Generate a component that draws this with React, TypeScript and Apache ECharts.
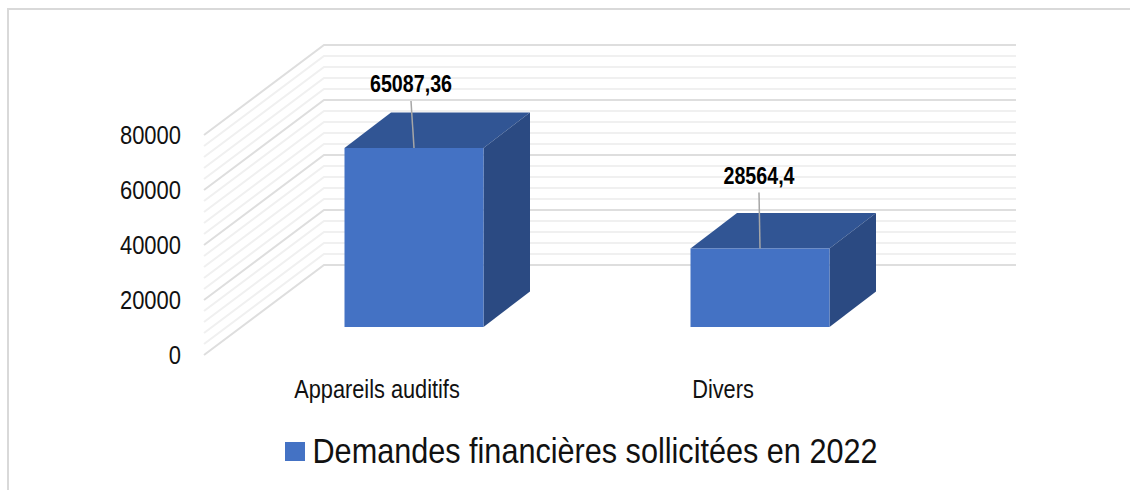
import React, { useEffect, useRef } from "react";
import * as echarts from "echarts";

const categories = ["Appareils auditifs", "Divers"];
const values = [65087.36, 28564.4];
const valueLabels = ["65087,36", "28564,4"];
const seriesName = "Demandes financières sollicitées en 2022";
const yTicks = [0, 20000, 40000, 60000, 80000];
const yTickLabels = ["0", "20000", "40000", "60000", "80000"];
const minorLines = [
  4000, 8000, 12000, 16000, 24000, 28000, 32000, 36000, 44000, 48000, 52000, 56000, 64000, 68000,
  72000, 76000,
];

const FONT = "'Liberation Sans', Arial, sans-serif";
const DEPTH_X = 120;
const DEPTH_Y = 90;
const BAR_WIDTH = 139;
const BAR_OFFSET_X = 37;
const BAR_OFFSET_Y = 28;
const BAR_DEPTH_X = 46.5;
const BAR_DEPTH_Y = 35.5;
const labelLift = [64, 73];
const leaderLift = [47, 56];
const leaderTilt = [-3, -1];

export default function App() {
  const ref = useRef<HTMLDivElement>(null);
  useEffect(() => {
    const chart = echarts.init(ref.current!, null, { renderer: "svg" });
    const wall = (params: any, api: any, color: string, width: number) => {
      const cs = params.coordSys;
      const y = api.coord([0, api.value(0)])[1];
      return {
        type: "polyline",
        silent: true,
        shape: {
          points: [
            [cs.x, y],
            [cs.x + DEPTH_X, y - DEPTH_Y],
            [cs.x + cs.width + DEPTH_X, y - DEPTH_Y],
          ],
        },
        style: { stroke: color, lineWidth: width, fill: "none" },
      };
    };
    chart.setOption({
      animation: false,
      backgroundColor: "#ffffff",
      textStyle: { fontFamily: FONT },
      grid: { left: 204, top: 135, width: 692, height: 220, containLabel: false },
      legend: {
        show: true,
        left: 280,
        top: 437,
        icon: "rect",
        itemWidth: 20,
        itemHeight: 19,
        selectedMode: false,
        formatter: () => " ",
        textStyle: { fontFamily: FONT, fontSize: 12 },
        data: [seriesName],
      },
      xAxis: {
        type: "category",
        data: categories,
        axisLine: { show: false },
        axisTick: { show: false },
        splitLine: { show: false },
        axisLabel: { show: false },
      },
      yAxis: {
        type: "value",
        min: 0,
        max: 80000,
        interval: 20000,
        axisLine: { show: false },
        axisTick: { show: false },
        splitLine: { show: false },
        axisLabel: { show: false },
      },
      series: [
        {
          type: "custom",
          name: "minor",
          silent: true,
          coordinateSystem: "cartesian2d",
          data: minorLines.map((v) => [v]),
          encode: { y: 0 },
          renderItem: (p: any, api: any) => wall(p, api, "#f0f0f0", 2),
        },
        {
          type: "custom",
          name: "major",
          silent: true,
          coordinateSystem: "cartesian2d",
          data: yTicks.map((v) => [v]),
          encode: { y: 0 },
          renderItem: (p: any, api: any) => wall(p, api, "#dedede", 2),
        },
        {
          type: "custom",
          name: "yLabels",
          silent: true,
          coordinateSystem: "cartesian2d",
          data: yTicks.map((v) => [v]),
          encode: { y: 0 },
          renderItem: (p: any, api: any) => ({
            type: "text",
            x: p.coordSys.x - 23,
            y: api.coord([0, api.value(0)])[1],
            scaleX: 0.845,
            style: {
              text: yTickLabels[p.dataIndex],
              font: `26px ${FONT}`,
              fill: "#111111",
              align: "right",
              verticalAlign: "middle",
            },
          }),
        },
        {
          type: "custom",
          name: "xLabels",
          silent: true,
          coordinateSystem: "cartesian2d",
          data: categories.map((_, i) => [i]),
          encode: { x: 0 },
          renderItem: (p: any, api: any) => ({
            type: "text",
            x: api.coord([api.value(0), 0])[0],
            y: api.coord([api.value(0), 0])[1] + 34,
            scaleX: 0.87,
            style: {
              text: categories[p.dataIndex],
              font: `25px ${FONT}`,
              fill: "#111111",
              align: "center",
              verticalAlign: "middle",
            },
          }),
        },
        {
          type: "custom",
          name: seriesName,
          coordinateSystem: "cartesian2d",
          itemStyle: { color: "#4472C4" },
          data: values.map((v, i) => [i, v]),
          encode: { x: 0, y: 1 },
          renderItem: (p: any, api: any) => {
            const i = p.dataIndex;
            const c = api.coord([api.value(0), api.value(1)]);
            const base = api.coord([api.value(0), 0]);
            const cx = c[0] + BAR_OFFSET_X;
            const x0 = cx - BAR_WIDTH / 2;
            const x1 = cx + BAR_WIDTH / 2;
            const yb = base[1] - BAR_OFFSET_Y;
            const yt = c[1] - BAR_OFFSET_Y;
            const dx = BAR_DEPTH_X;
            const dy = BAR_DEPTH_Y;
            return {
              type: "group",
              children: [
                {
                  type: "polygon",
                  shape: { points: [[x0, yt], [x1, yt], [x1 + dx, yt - dy], [x0 + dx, yt - dy]] },
                  style: { fill: "#315594" },
                },
                {
                  type: "polygon",
                  shape: { points: [[x1, yt], [x1 + dx, yt - dy], [x1 + dx, yb - dy], [x1, yb]] },
                  style: { fill: "#2B4A82" },
                },
                {
                  type: "rect",
                  shape: { x: x0, y: yt, width: BAR_WIDTH, height: yb - yt },
                  style: { fill: "#4472C4" },
                },
                {
                  type: "line",
                  shape: { x1: cx, y1: yt, x2: cx + leaderTilt[i], y2: yt - leaderLift[i] },
                  style: { stroke: "#a6a6a6", lineWidth: 1.5 },
                },
                {
                  type: "text",
                  x: cx + leaderTilt[i],
                  y: yt - labelLift[i],
                  scaleX: 0.82,
                  style: {
                    text: valueLabels[i],
                    fill: "#000000",
                    font: `bold 24px ${FONT}`,
                    align: "center",
                    verticalAlign: "middle",
                  },
                },
              ],
            };
          },
        },
      ],
      graphic: [
        {
          type: "polyline",
          silent: true,
          shape: { points: [[8, 490], [8, 9], [1130, 9]] },
          style: { stroke: "#d9d9d9", lineWidth: 2, fill: "none" },
        },
        {
          type: "text",
          silent: true,
          x: 312.5,
          y: 451,
          scaleX: 0.875,
          style: {
            text: seriesName,
            font: `35px ${FONT}`,
            fill: "#111111",
            align: "left",
            verticalAlign: "middle",
          },
        },
      ],
    });
    return () => chart.dispose();
  }, []);
  return <div ref={ref} style={{ position: "fixed", left: 0, top: 0, width: 1130, height: 490 }} />;
}
